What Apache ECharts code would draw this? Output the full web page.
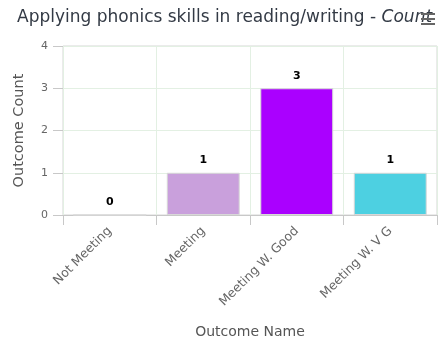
<!DOCTYPE html>
<html><head><meta charset="utf-8">
<script src="https://cdn.jsdelivr.net/npm/echarts@6/dist/echarts.min.js"></script>
<style>html,body{margin:0;padding:0;background:#fff}#c{width:439px;height:343px}</style>
</head><body><div id="c"></div>
<script>
const titleText = 'Applying phonics skills in reading/writing - ';
const titleItalic = 'Count';
const categories = ['Not Meeting', 'Meeting', 'Meeting W. Good', 'Meeting W. V G'];
const values = [0, 1, 3, 1];
const barColors = ['#C9A0DC', '#C9A0DC', '#AA00FF', '#4DD0E1'];
const yTicks = [0, 1, 2, 3, 4];
const xAxisName = 'Outcome Name';
const yAxisName = 'Outcome Count';

const chart = echarts.init(document.getElementById('c'), null, {renderer: 'canvas'});
const font = '"DejaVu Sans", Verdana, sans-serif';
chart.setOption({
  animation: false,
  title: {
    text: '{n|' + titleText + '}{i|' + titleItalic + '}',
    left: 12, top: 4,
    textStyle: {
      rich: {
        n: {fontFamily: font, fontSize: 17, fontWeight: 'normal', color: '#333a45'},
        i: {fontFamily: font, fontSize: 17, fontWeight: 'normal', color: '#333a45', fontStyle: 'italic'}
      }
    }
  },
  grid: {left: 63, right: 2, top: 46, bottom: 128, show: true, borderColor: '#d6d6d6', borderWidth: 1},
  xAxis: {
    type: 'category', data: categories,
    name: xAxisName, nameLocation: 'middle', nameGap: 110,
    nameTextStyle: {fontFamily: font, fontSize: 14, color: '#555'},
    axisLine: {lineStyle: {color: '#c8c8c8'}},
    axisTick: {show: true, length: 10, lineStyle: {color: '#c8c8c8'}},
    axisLabel: {rotate: 45, fontFamily: font, fontSize: 12.5, color: '#666', margin: 14},
    splitLine: {show: true, lineStyle: {color: '#e3f0e3'}}
  },
  yAxis: {
    type: 'value', min: 0, max: 4, interval: 1,
    name: yAxisName, nameLocation: 'middle', nameGap: 36,
    nameTextStyle: {fontFamily: font, fontSize: 14.5, color: '#555'},
    axisLine: {show: false},
    axisTick: {show: true, length: 10, lineStyle: {color: '#c8c8c8'}},
    axisLabel: {fontFamily: font, fontSize: 11, color: '#666', margin: 15},
    splitLine: {show: true, lineStyle: {color: '#e3f0e3'}}
  },
  series: [{
    type: 'bar',
    barWidth: '78%',
    data: values.map((v, i) => ({value: v, itemStyle: {color: barColors[i], borderColor: '#d8d8d8', borderWidth: 1}})),
    label: {
      show: true, position: 'top', distance: 7,
      fontFamily: font, fontSize: 11, fontWeight: 'bold', color: '#000',
      textBorderColor: '#fff', textBorderWidth: 2
    }
  }],
  graphic: [
    {type: 'rect', z: 100, shape: {x: 421, y: 13, width: 14, height: 2}, style: {fill: '#666'}},
    {type: 'rect', z: 100, shape: {x: 421, y: 18, width: 14, height: 2}, style: {fill: '#666'}},
    {type: 'rect', z: 100, shape: {x: 421, y: 23, width: 14, height: 2}, style: {fill: '#666'}}
  ]
});
</script></body></html>
